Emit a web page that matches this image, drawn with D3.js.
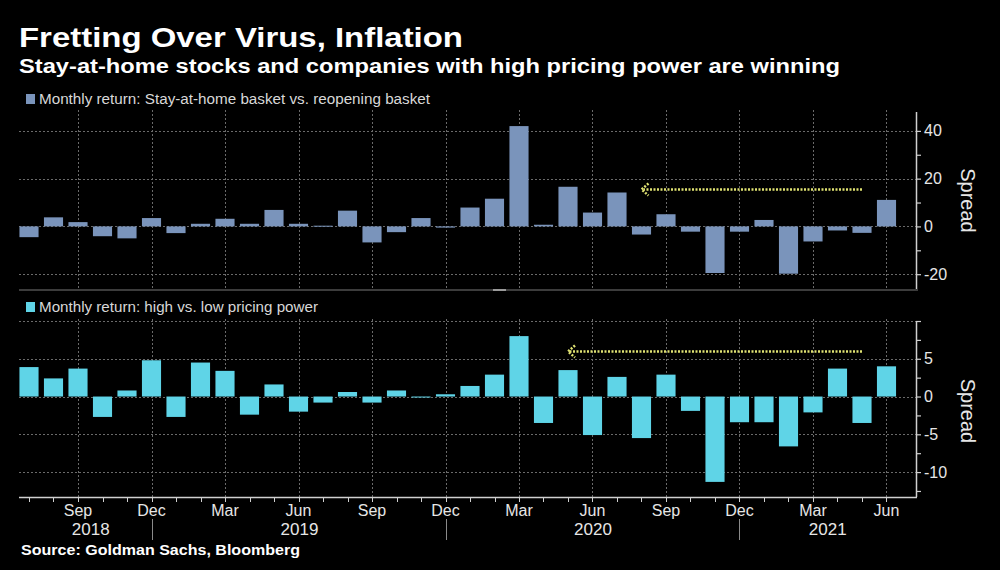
<!DOCTYPE html>
<html>
<head>
<meta charset="utf-8">
<script src="https://cdn.jsdelivr.net/npm/d3@7/dist/d3.min.js"></script>
<style>
  html, body { margin: 0; padding: 0; background: #000; }
  svg { display: block; }
  text { font-family: "Liberation Sans", Arial, sans-serif; }
</style>
</head>
<body>
<svg id="chart" width="1000" height="570"></svg>
<script>
// ---------------- DATA ----------------
const months = [
  "2018-07","2018-08","2018-09","2018-10","2018-11","2018-12",
  "2019-01","2019-02","2019-03","2019-04","2019-05","2019-06",
  "2019-07","2019-08","2019-09","2019-10","2019-11","2019-12",
  "2020-01","2020-02","2020-03","2020-04","2020-05","2020-06",
  "2020-07","2020-08","2020-09","2020-10","2020-11","2020-12",
  "2021-01","2021-02","2021-03","2021-04","2021-05","2021-06"
];
const stayAtHomeSpread = [
  -4.5, 3.8, 1.8, -4.1, -5.0, 3.5, -2.8, 1.1, 3.2, 1.1, 6.9, 1.1,
  0.3, 6.6, -6.7, -2.4, 3.5, -0.5, 7.9, 11.6, 42.0, 0.7, 16.6, 5.8,
  14.2, -3.4, 5.1, -2.2, -19.5, -2.2, 2.7, -19.8, -6.3, -1.7, -2.7, 11.1
];
const pricingPowerSpread = [
  3.9, 2.4, 3.7, -2.7, 0.8, 4.8, -2.7, 4.5, 3.4, -2.4, 1.6, -2.0,
  -0.8, 0.6, -0.8, 0.8, -0.1, 0.3, 1.4, 2.9, 8.0, -3.5, 3.5, -5.1,
  2.6, -5.5, 2.9, -1.9, -11.3, -3.4, -3.4, -6.6, -2.1, 3.7, -3.5, 4.0
];
const monthTickMonths = ["2018-09","2018-12","2019-03","2019-06","2019-09","2019-12",
                         "2020-03","2020-06","2020-09","2020-12","2021-03","2021-06"];
const monthTickLabels = ["Sep","Dec","Mar","Jun","Sep","Dec","Mar","Jun","Sep","Dec","Mar","Jun"];
const yearLabels = ["2018","2019","2020","2021"];
const yearStartMonths = ["2018-07","2018-12","2019-12","2020-12"]; // separators at Dec
const topTicksMajor = [-20, 0, 20, 40];
const topTicksMinor = [-20, -10, 0, 10, 20, 30, 40];
const botTicksMajor = [-10, -5, 0, 5];
const botTicksMinor = [-12.5, -10, -7.5, -5, -2.5, 0, 2.5, 5, 7.5, 10];
const botGrid = [-10, -5, 0, 5, 10];
// annotation arrows: [fromMonth, toMonth, level]
const topArrow = ["2021-05", "2020-08", 15.6];
const botArrow = ["2021-05", "2020-05", 6.0];

const title = "Fretting Over Virus, Inflation";
const subtitle = "Stay-at-home stocks and companies with high pricing power are winning";
const legendTop = "Monthly return: Stay-at-home basket vs. reopening basket";
const legendBot = "Monthly return: high vs. low pricing power";
const source = "Source: Goldman Sachs, Bloomberg";

// ---------------- LAYOUT ----------------
const W = 1000, H = 570;
const plotLeft = 19, axisX = 916;
const topPanel = {top: 112, bottom: 289};
const botPanel = {top: 321, bottom: 497};
const colTop = "#7a94bb", colBot = "#5fd4e7", arrowCol = "#dfe272";
const gridCol = "#6a6a6a", axisCol = "#d0d0d0", textCol = "#e6e6e6";

const svg = d3.select("#chart");
svg.append("rect").attr("width", W).attr("height", H).attr("fill", "#000");

// stretch text horizontally to the width measured on the reference
function fit(sel, width) {
  sel.attr("textLength", width).attr("lengthAdjust", "spacingAndGlyphs");
  return sel;
}

const x = d3.scaleBand().domain(months).range([16.75, 898.75])
  .paddingInner(0.22).paddingOuter(0.11);
const cx = m => x(m) + x.bandwidth() / 2;

const yTop = d3.scaleLinear().domain([-26.2, 47.9]).range([topPanel.bottom, topPanel.top]);
const yBot = d3.scaleLinear().domain([-13.3, 10]).range([botPanel.bottom, botPanel.top]);

// Titles
fit(svg.append("text").attr("x", 19).attr("y", 47).attr("fill", "#fff")
  .attr("font-size", 28).attr("font-weight", "bold").text(title), 444);
fit(svg.append("text").attr("x", 19).attr("y", 73).attr("fill", "#fff")
  .attr("font-size", 20).attr("font-weight", "bold").text(subtitle), 821);

function drawPanel(panel, y, values, color, grid, ticksMajor, ticksMinor, legend, legendY, legendW, arrow) {
  const g = svg.append("g");
  // horizontal grid
  g.selectAll(".hg").data(grid).join("line")
    .attr("x1", plotLeft).attr("x2", axisX)
    .attr("y1", d => Math.round(y(d)) + 0.5).attr("y2", d => Math.round(y(d)) + 0.5)
    .attr("stroke", gridCol).attr("stroke-width", 1).attr("stroke-dasharray", "2,2");
  // vertical grid
  g.selectAll(".vg").data(monthTickMonths).join("line")
    .attr("x1", d => Math.round(cx(d)) + 0.5).attr("x2", d => Math.round(cx(d)) + 0.5)
    .attr("y1", panel.top - 2).attr("y2", panel.bottom)
    .attr("stroke", gridCol).attr("stroke-width", 1).attr("stroke-dasharray", "2,2");
  // bars
  g.selectAll(".bar").data(months.map((m, i) => ({m, v: values[i]}))).join("rect")
    .attr("x", d => x(d.m)).attr("width", x.bandwidth())
    .attr("y", d => Math.min(y(d.v), y(0)))
    .attr("height", d => Math.max(1, Math.abs(y(d.v) - y(0))))
    .attr("fill", color);
  // right axis
  const ax = d3.axisRight(y).tickValues(ticksMinor).tickSize(5);
  const axg = g.append("g").attr("transform", `translate(${axisX},0)`).call(ax);
  axg.select(".domain").attr("d", `M0.5,${panel.top}V${panel.bottom}`).attr("stroke", axisCol).attr("stroke-width", 1.5);
  axg.selectAll(".tick line").attr("stroke", axisCol).attr("stroke-width", 1.2);
  axg.selectAll(".tick text").attr("fill", textCol).attr("font-size", 16)
    .attr("font-family", "Liberation Sans, Arial, sans-serif").attr("x", 8)
    .text(function(d){ return ticksMajor.includes(d) ? (d < 0 ? "-" + Math.abs(d) : d) : ""; });
  // Spread label
  const mid = (panel.top + panel.bottom) / 2 + (panel === topPanel ? 0 : 2);
  g.append("text").attr("transform", `translate(961,${mid}) rotate(90)`)
    .attr("text-anchor", "middle").attr("fill", textCol).attr("font-size", 20).text("Spread");
  // legend
  g.append("rect").attr("x", 26).attr("y", legendY - 10).attr("width", 9).attr("height", 10).attr("fill", color);
  fit(g.append("text").attr("x", 39).attr("y", legendY).attr("fill", "#d8d8d8")
    .attr("font-size", 14).text(legend), legendW);
  // arrow
  const ax1 = cx(arrow[0]), ax2 = cx(arrow[1]), ay = Math.round(y(arrow[2])) + 0.5;
  const ag = g.append("g").attr("stroke", arrowCol).attr("stroke-width", 2.5)
    .attr("stroke-dasharray", "2,1.5").attr("fill", "none");
  ag.append("line").attr("x1", ax1).attr("x2", ax2 + 2).attr("y1", ay).attr("y2", ay);
  ag.append("path").attr("d", `M${ax2 + 7},${ay - 6}L${ax2},${ay}L${ax2 + 7},${ay + 6}`);
}

drawPanel(topPanel, yTop, stayAtHomeSpread, colTop, topTicksMajor, topTicksMajor, topTicksMinor, legendTop, 104, 391, topArrow);
drawPanel(botPanel, yBot, pricingPowerSpread, colBot, botGrid, botTicksMajor, botTicksMinor, legendBot, 312, 279, botArrow);

// panel separator
svg.append("rect").attr("x", plotLeft).attr("y", 289).attr("width", axisX - plotLeft + 2).attr("height", 2).attr("fill", "#3c3c3c");
svg.append("rect").attr("x", 493).attr("y", 289).attr("width", 13).attr("height", 2).attr("fill", "#9a9a9a");

// x axis
const xg = svg.append("g");
xg.append("line").attr("x1", plotLeft).attr("x2", axisX + 1).attr("y1", 497.5).attr("y2", 497.5)
  .attr("stroke", axisCol).attr("stroke-width", 1.5);
xg.selectAll(".mt").data(months).join("line")
  .attr("x1", d => Math.round(cx(d)) + 0.5).attr("x2", d => Math.round(cx(d)) + 0.5)
  .attr("y1", 497).attr("y2", 502).attr("stroke", axisCol).attr("stroke-width", 1);
xg.selectAll(".ml").data(monthTickMonths).join("text")
  .attr("x", d => cx(d)).attr("y", 516).attr("text-anchor", "middle")
  .attr("fill", textCol).attr("font-size", 16)
  .text((d, i) => monthTickLabels[i]);
// year separators and labels
const sepX = yearStartMonths.slice(1).map(m => Math.round(cx(m)) + 0.5);
xg.selectAll(".ys").data(sepX).join("line")
  .attr("x1", d => d).attr("x2", d => d).attr("y1", 519).attr("y2", 540)
  .attr("stroke", "#8a8a8a").attr("stroke-width", 1);
const bounds = [x(months[0]) + x.bandwidth() / 2, ...sepX, axisX];
xg.selectAll(".yl").data(yearLabels).join("text")
  .attr("x", (d, i) => (bounds[i] + bounds[i + 1]) / 2).attr("y", 535)
  .attr("text-anchor", "middle").attr("fill", textCol).attr("font-size", 17).text(d => d);

// source
fit(svg.append("text").attr("x", 21).attr("y", 555).attr("fill", "#fff")
  .attr("font-size", 14).attr("font-weight", "bold").text(source), 279);
</script>
</body>
</html>
